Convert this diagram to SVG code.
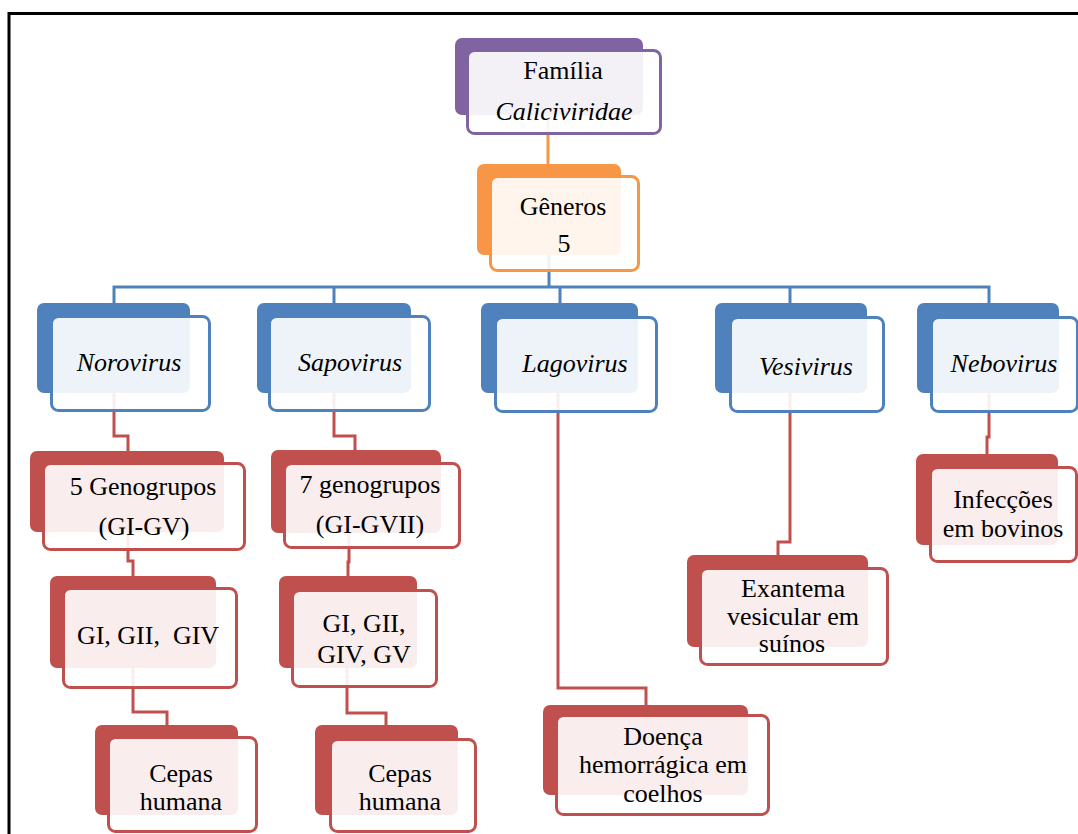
<svg xmlns="http://www.w3.org/2000/svg" width="1078" height="834" viewBox="0 0 1078 834">
  <style>
    text { font-family: "Liberation Serif", "Times New Roman", serif; font-size: 26px; fill: #000; text-anchor: middle; }
    .it { font-style: italic; }
    .back { stroke: none; }
    .front { fill: #ffffff; fill-opacity: 0.9; stroke-width: 3; }
    .purple .back { fill: #8064A2; } .purple .front { stroke: #8064A2; }
    .orange .back { fill: #F79646; } .orange .front { stroke: #F79646; }
    .blue .back { fill: #4F81BD; } .blue .front { stroke: #4F81BD; }
    .red .back { fill: #C0504D; } .red .front { stroke: #C0504D; }
    .link { fill: none; stroke-width: 3; stroke-linejoin: miter; }
    .l-orange { stroke: #F79646; }
    .l-blue { stroke: #4F81BD; }
    .l-red { stroke: #C0504D; }
  </style>

  <rect width="1078" height="834" fill="#ffffff"/>
  <!-- page frame -->
  <rect x="9" y="13.5" width="1100" height="860" fill="none" stroke="#000" stroke-width="3"/>

  <!-- connectors (drawn under the boxes) -->
  <g id="connectors">
    <path class="link l-orange" d="M548,110 V166"/>
    <path class="link l-blue" d="M549,240 V287"/>
    <path class="link l-blue" d="M114,304 V287 H989 V304"/>
    <path class="link l-blue" d="M334,287 V304"/>
    <path class="link l-blue" d="M560,287 V304"/>
    <path class="link l-blue" d="M790,287 V304"/>
    <!-- Norovirus branch -->
    <path class="link l-red" d="M114,380 V436 H128 V452"/>
    <path class="link l-red" d="M128,520 V561 H133 V577"/>
    <path class="link l-red" d="M133,650 V712 H167 V726"/>
    <!-- Sapovirus branch -->
    <path class="link l-red" d="M334,380 V436 H355 V451"/>
    <path class="link l-red" d="M349,520 V562 H348 V577"/>
    <path class="link l-red" d="M347,650 V713 H386 V726"/>
    <!-- Lagovirus branch -->
    <path class="link l-red" d="M558,380 V688 H646 V706"/>
    <!-- Vesivirus branch -->
    <path class="link l-red" d="M790,380 V542 H778 V556"/>
    <!-- Nebovirus branch -->
    <path class="link l-red" d="M989,380 V437 H987 V455"/>
  </g>

  <g id="familia" class="purple">
    <rect class="back" x="455" y="38" width="188" height="77" rx="7"/>
    <rect class="front" x="467.5" y="50.5" width="193" height="83" rx="7"/>
    <text x="563" y="79">Família</text>
    <text class="it" x="564" y="120">Caliciviridae</text>
  </g>

  <g id="generos" class="orange">
    <rect class="back" x="477" y="164" width="144" height="91" rx="7"/>
    <rect class="front" x="490.5" y="176.5" width="148" height="94" rx="7"/>
    <text x="563" y="215">Gêneros</text>
    <text x="564" y="252">5</text>
  </g>

  <g id="norovirus" class="blue">
    <rect class="back" x="37" y="303" width="153" height="90" rx="7"/>
    <rect class="front" x="51.5" y="316.5" width="158" height="94" rx="7"/>
    <text class="it" x="129" y="371">Norovirus</text>
  </g>

  <g id="sapovirus" class="blue">
    <rect class="back" x="257" y="303" width="154" height="90" rx="7"/>
    <rect class="front" x="269.5" y="316.5" width="160" height="94" rx="7"/>
    <text class="it" x="350" y="371">Sapovirus</text>
  </g>

  <g id="lagovirus" class="blue">
    <rect class="back" x="481" y="303" width="157" height="90" rx="7"/>
    <rect class="front" x="495.5" y="317.5" width="161" height="94" rx="7"/>
    <text class="it" x="575" y="372">Lagovirus</text>
  </g>

  <g id="vesivirus" class="blue">
    <rect class="back" x="715" y="303" width="152" height="90" rx="7"/>
    <rect class="front" x="730.5" y="317.5" width="153" height="94" rx="7"/>
    <text class="it" x="806" y="375">Vesivirus</text>
  </g>

  <g id="nebovirus" class="blue">
    <rect class="back" x="917" y="303" width="142" height="90" rx="7"/>
    <rect class="front" x="931.5" y="317.5" width="146" height="94" rx="7"/>
    <text class="it" x="1004" y="372">Nebovirus</text>
  </g>

  <g id="norovirus-genogrupos" class="red">
    <rect class="back" x="30" y="451" width="194" height="81" rx="7"/>
    <rect class="front" x="43.5" y="463.5" width="201" height="86" rx="7"/>
    <text x="143" y="495">5 Genogrupos</text>
    <text x="144" y="535">(GI-GV)</text>
  </g>

  <g id="norovirus-tipos" class="red">
    <rect class="back" x="50" y="576" width="166" height="92" rx="7"/>
    <rect class="front" x="63.5" y="588.5" width="173" height="99" rx="7"/>
    <text x="148" y="644" xml:space="preserve">GI, GII,  GIV</text>
  </g>

  <g id="norovirus-cepas" class="red">
    <rect class="back" x="95" y="725" width="143" height="90" rx="7"/>
    <rect class="front" x="108.5" y="737.5" width="148" height="94" rx="7"/>
    <text x="181" y="782">Cepas</text>
    <text x="181" y="810">humana</text>
  </g>

  <g id="sapovirus-genogrupos" class="red">
    <rect class="back" x="271" y="450" width="170" height="83" rx="7"/>
    <rect class="front" x="284.5" y="463.5" width="175" height="84" rx="7"/>
    <text x="370" y="493">7 genogrupos</text>
    <text x="370" y="533">(GI-GVII)</text>
  </g>

  <g id="sapovirus-tipos" class="red">
    <rect class="back" x="279" y="576" width="138" height="92" rx="7"/>
    <rect class="front" x="292.5" y="590.5" width="144" height="96" rx="7"/>
    <text x="364" y="632">GI, GII,</text>
    <text x="364" y="663">GIV, GV</text>
  </g>

  <g id="sapovirus-cepas" class="red">
    <rect class="back" x="315" y="725" width="143" height="90" rx="7"/>
    <rect class="front" x="330.5" y="739.5" width="145" height="92" rx="7"/>
    <text x="400" y="782">Cepas</text>
    <text x="400" y="810">humana</text>
  </g>

  <g id="lagovirus-doenca" class="red">
    <rect class="back" x="543" y="705" width="205" height="90" rx="7"/>
    <rect class="front" x="556.5" y="715.5" width="212" height="99" rx="7"/>
    <text x="663" y="745">Doença</text>
    <text x="663" y="773">hemorrágica em</text>
    <text x="663" y="802">coelhos</text>
  </g>

  <g id="vesivirus-exantema" class="red">
    <rect class="back" x="687" y="555" width="181" height="92" rx="7"/>
    <rect class="front" x="700.5" y="568.5" width="187" height="96" rx="7"/>
    <text x="793" y="597">Exantema</text>
    <text x="793" y="625">vesicular em</text>
    <text x="792" y="652">suínos</text>
  </g>

  <g id="nebovirus-infeccoes" class="red">
    <rect class="back" x="916" y="454" width="142" height="91" rx="7"/>
    <rect class="front" x="930.5" y="467.5" width="146" height="94" rx="7"/>
    <text x="1003" y="508">Infecções</text>
    <text x="1003" y="537">em bovinos</text>
  </g>
</svg>
